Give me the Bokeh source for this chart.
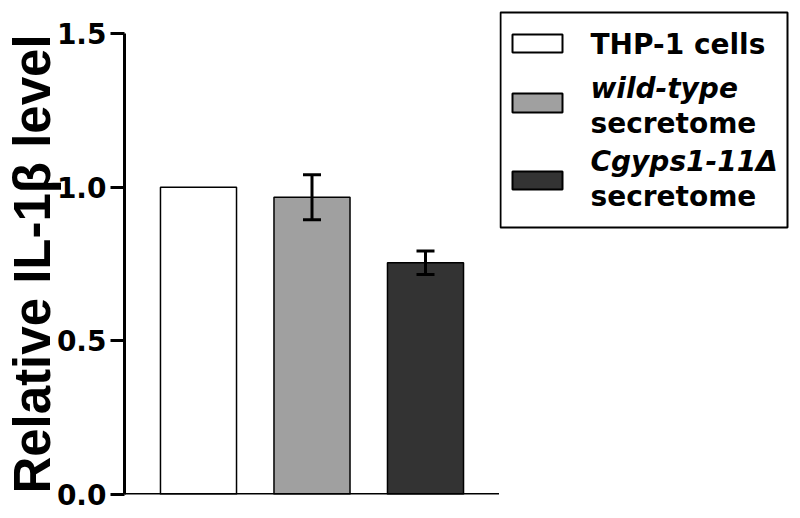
import math
from bokeh.plotting import figure
from bokeh.models import (ColumnDataSource, FactorRange, Range1d, FixedTicker,
                          Whisker, TeeHead, Span, NumeralTickFormatter)
from bokeh.layouts import row
from bokeh.embed import file_html
from bokeh.resources import INLINE
from bokeh.core.properties import value

# ---------------- data ----------------
groups = ["THP-1 cells", "wild-type secretome", "Cgyps1-11Δ secretome"]
means = [1.0, 0.967, 0.754]
errors = [0.0, 0.073, 0.038]
fills = ["#ffffff", "#a0a0a0", "#333333"]
y_ticks = [0.0, 0.5, 1.0, 1.5]
y_label = "Relative IL-1β level"
legend_lines = ["THP-1 cells", "wild-type", "secretome", "Cgyps1-11Δ", "secretome"]
legend_styles = ["bold", "bold italic", "bold", "bold italic", "bold"]

# ---------------- layout constants ----------------
FONT = "DejaVu Sans"
W_MAIN, W_LEG, H = 499, 301, 518
LEG_TEXT_X = 91
LEG_BASELINES = [44, 88, 123, 161, 196]
SW_LEFT, SW_RIGHT = 13, 63
SW_TOP = [34, 93, 171]
SW_BOT = [52, 112, 189]
BOX = dict(left=1, right=288, top=12, bottom=227)

# ---------------- main plot ----------------
p = figure(width=W_MAIN, height=H,
           x_range=FactorRange(factors=groups, range_padding=0.1013),
           y_range=Range1d(0, 1.5),
           output_backend="svg", toolbar_location=None,
           min_border_left=124, min_border_right=0,
           min_border_top=33, min_border_bottom=24)
p.frame_align = False
p.outline_line_color = None
p.xgrid.visible = False
p.ygrid.visible = False
p.xaxis.visible = False

src = ColumnDataSource(dict(group=groups, mean=means, fill=fills))
p.vbar(x="group", top="mean", width=0.67, source=src,
       fill_color="fill", line_color="black", line_width=1.5)

eg = [g for g, e in zip(groups, errors) if e > 0]
eu = [m + e for m, e in zip(means, errors) if e > 0]
el = [m - e for m, e in zip(means, errors) if e > 0]
esrc = ColumnDataSource(dict(group=eg, upper=eu, lower=el))
wh = Whisker(base="group", upper="upper", lower="lower", source=esrc,
             line_width=3, line_color="black", level="annotation",
             upper_head=TeeHead(size=18, line_width=3, line_color="black"),
             lower_head=TeeHead(size=18, line_width=3, line_color="black"))
p.add_layout(wh)

# x baseline (axis line)
p.add_layout(Span(location=0, dimension="width", line_color="black", line_width=3))

ya = p.yaxis[0]
ya.ticker = FixedTicker(ticks=y_ticks)
ya.formatter = NumeralTickFormatter(format="0.0")
ya.axis_line_width = 3
ya.major_tick_line_width = 3
ya.major_tick_out = 14
ya.major_tick_in = 0
ya.minor_tick_out = 0
ya.minor_tick_in = 0
ya.major_label_standoff = 4
ya.major_label_text_font = FONT
ya.major_label_text_font_style = "bold"
ya.major_label_text_font_size = "28px"
ya.major_label_text_color = "black"
ya.axis_label = y_label
ya.axis_label_text_font = "Liberation Sans"
ya.axis_label_text_font_style = "bold"
ya.axis_label_text_font_size = "51px"
ya.axis_label_text_color = "black"
ya.axis_label_standoff = -7

# ---------------- legend panel ----------------
lg = figure(width=W_LEG, height=H, x_range=Range1d(0, W_LEG), y_range=Range1d(H, 0),
            output_backend="svg", toolbar_location=None, min_border=0,
            x_axis_location=None, y_axis_location=None)
lg.frame_align = False
lg.outline_line_color = None
lg.xgrid.visible = False
lg.ygrid.visible = False

lg.quad(left=[BOX["left"]], right=[BOX["right"]], top=[BOX["top"]], bottom=[BOX["bottom"]],
        fill_color=None, line_color="black", line_width=2)
ssrc = ColumnDataSource(dict(left=[SW_LEFT] * 3, right=[SW_RIGHT] * 3,
                             top=SW_TOP, bottom=SW_BOT, fill=fills))
lg.quad(left="left", right="right", top="top", bottom="bottom", source=ssrc,
        fill_color="fill", line_color="black", line_width=2)
tsrc = ColumnDataSource(dict(x=[LEG_TEXT_X] * len(legend_lines), y=LEG_BASELINES,
                             text=legend_lines, style=legend_styles))
lg.text(x="x", y="y", text="text", source=tsrc, text_font=value(FONT),
        text_font_style="style", text_font_size=value("28px"),
        text_baseline="alphabetic", text_align="left", text_color="black")

layout = row(p, lg)
open("out.html", "w").write(file_html(layout, INLINE))
